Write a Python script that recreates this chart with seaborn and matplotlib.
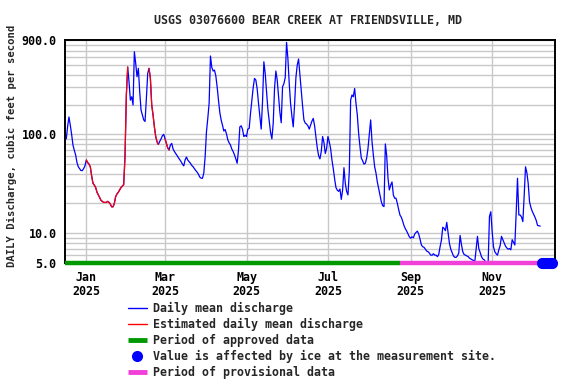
import numpy as np
import pandas as pd
import matplotlib
matplotlib.use("Agg")
import matplotlib.pyplot as plt
import seaborn as sns
from matplotlib.lines import Line2D
from matplotlib.ticker import NullLocator

# ---------------- data (daily mean discharge, cfs) ----------------
start_date = "2024-12-17"
q_dec = [90, 120, 150, 124, 100, 78, 69, 62, 52, 47, 45, 43, 43, 45, 48]
q_jan = [55, 52, 50, 47, 38, 32, 30.7, 29, 26, 24.4, 23, 21.5, 21, 20.5, 20.5,
         20.5, 21, 20.5, 19.7, 18.5, 18.5, 20, 23.5, 25, 26, 27.5, 29, 30, 31,
         60, 250, 480]
q_feb_mar = [340, 222, 240, 198, 685, 522, 383, 465, 270, 176, 157, 140, 135,
             231, 414, 465, 368, 198, 157, 119, 95, 84, 79, 85, 90, 97, 100, 90,
             81, 73, 69.5, 78, 81, 71, 67, 64, 61, 58, 55.5, 53, 50, 48, 55, 59]
q_mar_may = [55, 53, 51, 48.5, 47, 45, 43, 41.5, 39.5, 37, 36, 36, 40.5, 59,
             106, 145, 206, 620, 476, 437, 447, 392, 303, 222, 167, 140, 124,
             108, 112, 101, 88, 82, 78, 71, 67, 62, 56.5, 51, 69.5, 119, 122,
             113, 95, 98, 95, 113, 115]
q_may_jun = [163, 222, 297, 368, 354, 287, 206, 153, 113, 214, 542, 414, 270,
             180, 136, 105, 90, 129, 291, 437, 354, 246, 167, 131, 303, 325,
             374, 851, 586, 328, 206, 153, 119, 198, 374, 502, 578, 398, 274,
             194, 140, 130, 127, 122, 113, 124, 136]
q_jun_aug = [145, 122, 95, 73, 61, 56.5, 67, 95, 83, 64, 72, 95, 84, 72, 55,
             45, 35.5, 29, 27.3, 26.5, 28, 22, 27.4, 46, 32, 26.5, 24.4, 42,
             222, 250, 240, 291, 206, 157, 102, 75, 57.5, 54, 50, 51, 57.5, 72,
             100, 140, 85]
q_aug_sep = [62, 47, 40.5, 33, 28.3, 24.4, 20.8, 19, 18.6, 80, 61, 36, 27.4,
             30.7, 33, 24.4, 22.6, 22.6, 20, 17.3, 15.2, 14.5, 13.2, 11.9, 11.1,
             10.5, 9.8, 9.2, 8.9, 9.2, 9, 9.8, 10.2, 10.5, 9.8, 8.7, 7.6, 7.3,
             7.2, 6.9, 6.6, 6.5, 6.3, 6.0, 6.0, 6.2, 6.0]
q_sep_nov = [6.0, 5.8, 6.1, 7.3, 8.5, 11.5, 11.2, 10.6, 12.9, 10.1, 7.9, 6.9,
             6.4, 5.9, 5.7, 5.7, 5.9, 6.3, 9.5, 7.7, 6.5, 6.1, 6.0, 5.9, 5.8,
             5.6, 5.5, 5.4, 5.3, 5.15, 7.0, 9.3, 7.0, 6.4, 5.8, 5.5, 5.4, 5.15,
             5.05, 5.0, 14.8, 16.5, 10.4, 7.3, 6.5, 6.2, 6.0]
q_nov_dec = [6.8, 7.5, 9.3, 8.6, 7.9, 7.4, 7.1, 6.9, 7.0, 6.8, 8.6, 8.1, 7.6,
             16, 36, 15.3, 15.3, 14.6, 13.1, 24, 47, 41, 32, 20.8, 18.3, 16.7,
             15.6, 14.6, 13.5, 12, 11.9, 11.8]

estimated_ranges = [("2025-01-02", "2025-02-01"),
                    ("2025-02-18", "2025-02-24"),
                    ("2025-03-02", "2025-03-04")]
approved_period = ("2024-12-16", "2025-08-24")
provisional_period = ("2025-08-24", "2025-12-18")
ice_dates = ["2025-12-08", "2025-12-09", "2025-12-10", "2025-12-11",
             "2025-12-12", "2025-12-13", "2025-12-14", "2025-12-15",
             "2025-12-16"]

ytick_vals = [5, 10, 100, 900]
ytick_labels = ["5.0", "10.0", "100.0", "900.0"]
grid_vals = [5, 6, 7, 8, 9, 10, 20, 30, 40, 50, 60, 70, 80, 90, 100,
             200, 300, 400, 500, 600, 700, 800, 900]
month_ticks = ["2025-01-01", "2025-03-01", "2025-05-01", "2025-07-01",
               "2025-09-01", "2025-11-01"]
month_labels = ["Jan\n2025", "Mar\n2025", "May\n2025", "Jul\n2025",
                "Sep\n2025", "Nov\n2025"]

title = "USGS 03076600 BEAR CREEK AT FRIENDSVILLE, MD"
ylabel = "DAILY Discharge, cubic feet per second"
legend_labels = ["Daily mean discharge",
                 "Estimated daily mean discharge",
                 "Period of approved data",
                 "Value is affected by ice at the measurement site.",
                 "Period of provisional data"]

# ---------------- colours ----------------
BLUE = "#0000FF"
RED = "#FF0000"
GREEN = "#009A00"
PINK = "#F040D8"
GRID = "#C8C8C8"

values = (q_dec + q_jan + q_feb_mar + q_mar_may + q_may_jun + q_jun_aug +
          q_aug_sep + q_sep_nov + q_nov_dec)
dates = pd.date_range(start_date, periods=len(values), freq="D")
df = pd.DataFrame({"date": dates, "discharge": values})

sns.set_theme(style="white")
plt.rcParams["font.family"] = ["DejaVu Sans Mono"]
plt.rcParams["font.weight"] = "bold"
FS = 8.4

fig = plt.figure(figsize=(5.76, 3.84), dpi=100)
ax = fig.add_axes([65 / 576, 1 - 263 / 384, 490 / 576, 223 / 384])

sns.lineplot(data=df, x="date", y="discharge", ax=ax, color=BLUE,
             linewidth=0.9, zorder=3)
for s, e in estimated_ranges:
    sub = df[(df["date"] >= pd.Timestamp(s) - pd.Timedelta(days=1)) &
             (df["date"] <= pd.Timestamp(e))]
    sns.lineplot(data=sub, x="date", y="discharge", ax=ax, color=RED,
                 linewidth=0.9, zorder=4)

ax.set_yscale("log")
ax.set_ylim(5, 900)
ax.set_xlim(pd.Timestamp("2024-12-16 01:00"), pd.Timestamp("2025-12-18 02:00"))

ax.set_yticks(grid_vals)
ax.set_yticklabels([ytick_labels[ytick_vals.index(v)] if v in ytick_vals else ""
                    for v in grid_vals])
ax.yaxis.set_minor_locator(NullLocator())
ax.set_xticks(pd.to_datetime(month_ticks))
ax.set_xticklabels(month_labels, linespacing=1.1)
ax.xaxis.set_minor_locator(NullLocator())
ax.grid(True, color=GRID, linewidth=1.0, zorder=0)
ax.set_axisbelow(True)
ax.tick_params(axis="both", length=0, labelsize=FS, colors="black")
ax.tick_params(axis="y", pad=6)
ax.tick_params(axis="x", pad=6)
for lab in ax.get_xticklabels() + ax.get_yticklabels():
    lab.set_fontweight("bold")
ax.set_xlabel("")
ax.set_ylabel("")
for sp in ax.spines.values():
    sp.set_color("black")
    sp.set_linewidth(1.4)

# approval status bars
ax.plot(pd.to_datetime(list(approved_period)), [5, 5], color=GREEN, lw=3.2,
        solid_capstyle="butt", clip_on=False, zorder=5)
ax.plot(pd.to_datetime(list(provisional_period)), [5, 5], color=PINK, lw=3.2,
        solid_capstyle="butt", clip_on=False, zorder=5)
# ice-affected markers
ax.plot(pd.to_datetime(ice_dates), [5] * len(ice_dates), linestyle="none",
        marker="o", markersize=7, color=BLUE, clip_on=False, zorder=6)

fig.text(308 / 576, 1 - 20 / 384, title, ha="center", va="center",
         fontsize=FS, fontweight="bold")
fig.text(12 / 576, 1 - 146 / 384, ylabel, rotation=90, ha="center",
         va="center", fontsize=7.6, fontweight="bold")

handles = [Line2D([], [], color=BLUE, lw=1.0),
           Line2D([], [], color=RED, lw=1.0),
           Line2D([], [], color=GREEN, lw=3.5, solid_capstyle="butt"),
           Line2D([], [], color=BLUE, marker="o", linestyle="none",
                  markersize=7),
           Line2D([], [], color=PINK, lw=3.5, solid_capstyle="butt")]
leg = fig.legend(handles, legend_labels, loc="upper left",
                 bbox_to_anchor=(128 / 576, 1 - 302 / 384), frameon=False,
                 fontsize=FS, handlelength=1.6, handletextpad=0.55,
                 labelspacing=0.25, borderpad=0, borderaxespad=0)
for t in leg.get_texts():
    t.set_fontweight("bold")

fig.savefig("out.png", dpi=100)
